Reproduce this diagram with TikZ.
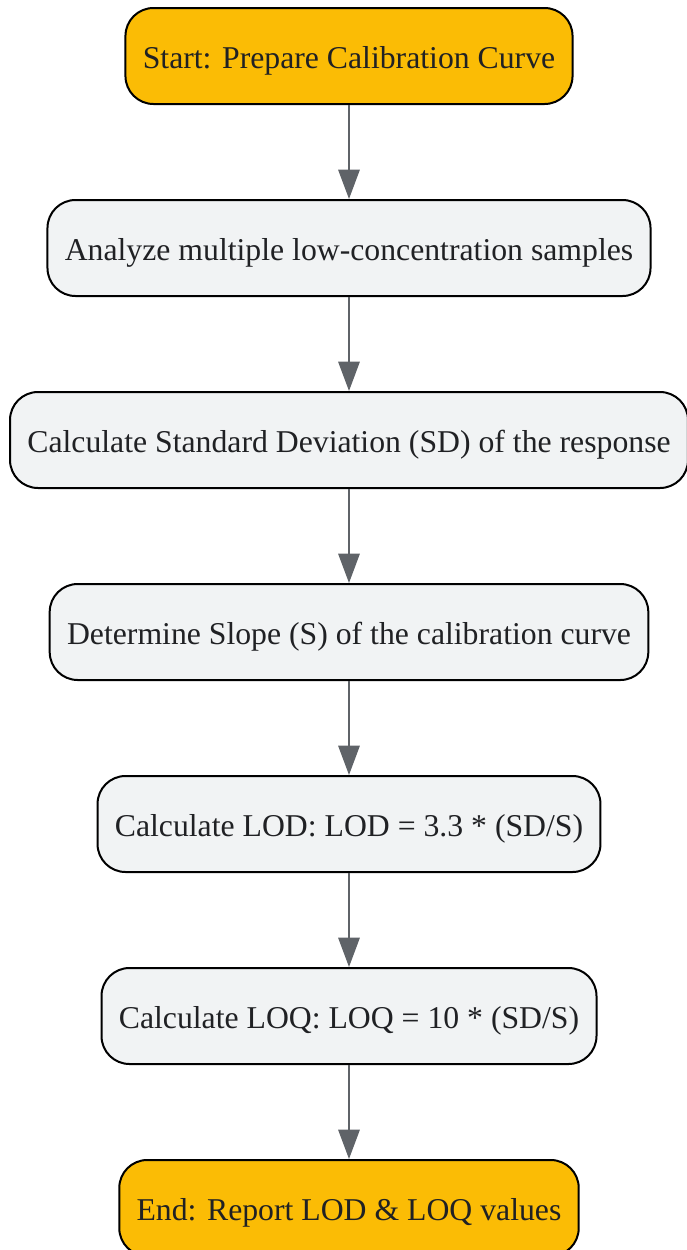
\documentclass[tikz,border=0pt]{standalone}
\usepackage{fontspec}
\setmainfont{Liberation Serif}
\usetikzlibrary{shapes.geometric, arrows.meta, positioning}
\definecolor{startend}{HTML}{FBBC05}
\definecolor{stepfill}{HTML}{F1F3F4}
\definecolor{textgray}{HTML}{202124}
\definecolor{arrowgray}{HTML}{5F6368}
\begin{document}
\begin{tikzpicture}[x=0.75pt, y=-0.75pt, node distance = 70.5pt]
      \tikzstyle{main} = [rectangle, rounded corners = 21pt, minimum height = 72pt, inner xsep = 13pt, text height = 18pt, text depth = 0pt, line width = 1.5pt, draw = black, fill = stepfill, text = textgray, font = \fontsize{23.8}{28}\selectfont]
      \tikzstyle{term} = [main, fill = startend]
      \tikzstyle{connect} = [-{Triangle[width = 16pt, length = 22pt]}, line width = 1.6pt, draw = arrowgray]
      \useasboundingbox (0,0) rectangle (686,1250);
      \node[term] (start) at (349,56) {Start: Prepare Calibration Curve};
      \node[main, below=of start] (analyze) {Analyze multiple low-concentration samples};
      \node[main, below=of analyze] (sd) {Calculate Standard Deviation (SD) of the response};
      \node[main, below=of sd] (slope) {Determine Slope (S) of the calibration curve};
      \node[main, below=of slope] (lod) {Calculate LOD: LOD = 3.3 * (SD/S)};
      \node[main, below=of lod] (loq) {Calculate LOQ: LOQ = 10 * (SD/S)};
      \node[term, below=of loq] (end) {End: Report LOD \& LOQ values};
      \path (start) edge [connect] (analyze) (analyze) edge [connect] (sd) (sd) edge [connect] (slope)
            (slope) edge [connect] (lod) (lod) edge [connect] (loq) (loq) edge [connect] (end);
    \end{tikzpicture}
\end{document}
